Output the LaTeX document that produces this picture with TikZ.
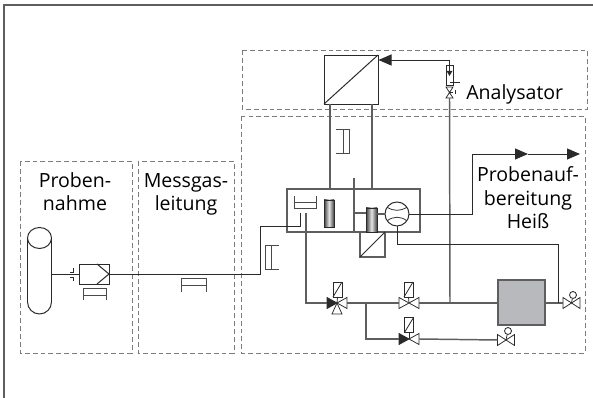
\documentclass[tikz,border=0pt]{standalone}
\usepackage{fontspec}
\setmainfont{Open Sans}
\usetikzlibrary{positioning,arrows.meta,calc}
\definecolor{linedark}{HTML}{2A2A2A}
\definecolor{linegrey}{HTML}{5E5E5E}
\definecolor{dashgrey}{HTML}{7C7C7C}
\definecolor{heatgrey}{HTML}{B8B9BC}
\def\px{0.025cm}

\begin{document}
\begin{tikzpicture}[
  x=\px, y=-\px,
  font=\fontsize{13.9}{17}\selectfont,
  zone/.style={draw=dashgrey, line width=0.7pt, dash pattern=on 3.4pt off 2.2pt},
  pipe/.style={draw=linedark, line width=0.7pt},
  gpipe/.style={draw=linegrey, line width=1.05pt},
  thin/.style={draw=linedark, line width=0.55pt},
  bracket/.style={draw=linedark!85, line width=0.6pt},
  box/.style={rectangle, draw=linedark, line width=0.65pt, inner sep=0pt, outer sep=0pt},
  heatrod/.style={box, left color=black!75, right color=black!75, middle color=black!10},
  solenoid/.style={box, line width=0.6pt, minimum width=9*\px, minimum height=15*\px},
  valvept/.style={inner sep=0pt, outer sep=0pt, minimum width=20*\px, minimum height=11*\px},
  knob/.style={circle, draw=linedark, line width=0.6pt, inner sep=0pt, minimum size=7*\px},
  flowtip/.style={-{Triangle[length=13*\px, width=11*\px]}},
  lbl/.style={align=center, anchor=base, inner sep=0pt},
]
\useasboundingbox (0,0) rectangle (593,398);
% ---- outer frame ----
\coordinate (ftl) at (4,5);
\draw[draw=linegrey, line width=1.1pt] (593,5) -- (ftl) -- (4,398);

% ---- dashed zones ----
\draw[zone] (20,161) rectangle (132,353);
\draw[zone] (138,161) rectangle (234,353);
\draw[zone] (242,50) rectangle (587,109);
\draw[zone] (241,116) rectangle (585,353);

% ---- labels ----
\node[lbl] (lprobe) at (75,211) {Proben-\\nahme};
\node[lbl] (lmess) at (186,211) {Messgas-\\leitung};
\node[lbl, anchor=base west] (lana) at (466,100) {Analysator};
\node[lbl] (lauf) at (528,229) {Probenauf-\\bereitung\\Heiß};

% ---- main units ----
\node[box, minimum width=54*\px, minimum height=49*\px] (memb) at (351,79.5) {};
\node[box, draw=linegrey, line width=1pt, minimum width=133*\px, minimum height=43*\px] (block) at (353.5,210.5) {};
\node[box, draw=linegrey, line width=0.8pt, minimum width=25*\px, minimum height=25*\px] (memb2) at (372.5,244.5) {};
\node[box, draw=linegrey, line width=1pt, fill=heatgrey, minimum width=47*\px, minimum height=45*\px] (oven) at (521.5,302.5) {};
\node[heatrod, minimum width=10*\px, minimum height=27*\px] (rod1) at (329,213.5) {};
\node[heatrod, minimum width=11*\px, minimum height=24*\px] (rod2) at (371.5,220) {};
\node[circle, draw=linedark, line width=0.7pt, inner sep=0pt, minimum size=24*\px] (pump) at (397,214) {};
\draw[thin] (pump.center) ++(-10,-6.7) .. controls +(6,4) and +(-6,4) .. +(20,0);
\draw[thin] (pump.center) ++(-10,7) .. controls +(6,-5) and +(-6,-5) .. +(20,0);
\foreach \m in {memb,memb2}{
  \draw[pipe] (\m.south west) -- (\m.north east);
}

% ---- sample probe and filter ----
\node[inner sep=0pt, minimum width=25*\px, minimum height=86*\px] (cyl) at (39.5,271) {};
\draw[pipe] (39.5,238) ellipse[x radius=12, y radius=10.5];
\draw[pipe] (27.5,238) -- (27.5,302) arc[start angle=180, end angle=360, x radius=12, y radius=-12] -- (51.5,238);
\node[box, line width=0.7pt, minimum width=30*\px, minimum height=20*\px] (filter) at (94,274) {};
\draw[pipe] (97,264) -- (filter.east) -- (97,284);
\draw[pipe] (cyl.east |- filter.west) -- (filter.west);
\draw[thin] (70,272) -- (73,272) -- (73,268);
\draw[thin] (70,277) -- (73,277) -- (73,281);

% ---- valves ----
\node[valvept] (v1) at (337,303) {};
\node[valvept] (v2) at (409,303) {};
\node[valvept] (v3) at (409,339) {};
\node[valvept, minimum width=17*\px] (v4) at (571.5,303) {};
\node[valvept, minimum width=17*\px] (v5) at (506,340) {};
\node[valvept, minimum width=7*\px] (v6) at (449.5,92.5) {};
\foreach \v in {v1,v2,v3,v4,v5}{
  \draw[thin] (\v.north west) -- (\v.south west) -- (\v.north east) -- (\v.south east) -- cycle;
}
\draw[thin] (v6.north west) -- (v6.north east) -- (v6.south west) -- (v6.south east) -- cycle;
\draw[thin] (v6.center) -- (v6.east) ++(2,-2) -- ++(0,4);
\foreach \v in {v1,v3}{
  \fill[linedark] (\v.north west) -- (\v.south west) -- (\v.center) -- cycle;
}
\draw[thin] (v1.center) -- +(-5,11) -- +(5,11) -- cycle;

\node[solenoid] (s1) at (337.5,289.5) {};
\node[solenoid] (s2) at (408.5,289.5) {};
\node[solenoid] (s3) at (409,325) {};
\foreach \i in {1,2,3}{
  \draw[thin] (s\i.south west) -- (s\i.north east);
  \draw[thin] (s\i) ++(0,7.5) -- (v\i.center);
}
\node[knob] (k4) at (573,295) {};
\node[knob] (k5) at (508,331) {};
\draw[thin] (k4) -- (v4.center);
\draw[thin] (k5) -- (v5.center);

% ---- flow meter ----
\node[box, line width=0.7pt, minimum width=7*\px, minimum height=20*\px] (flow) at (449.5,75) {};
\fill[linedark] (446.5,71) -- (452.5,71) -- (449.5,76) -- cycle;
\draw[thin] (449.5,71) -- (449.5,65);
\draw[thin] (450,82) -- (460,82);

% ---- brackets ----
\draw[bracket] (83,300) -- (83,288) -- (106,288) -- (106,300) (83,295) -- (106,295);
\draw[bracket] (181,292) -- (181,278) -- (206,278) -- (206,292) (181,285) -- (206,285);
\draw[bracket] (336,129) -- (349,129) -- (349,153) -- (336,153) (343,129) -- (343,153);
\draw[bracket] (279,245) -- (265,245) -- (265,269) -- (279,269) (271,245) -- (271,269);
\draw[bracket] (294,196) -- (294,208) -- (316,208) -- (316,196) (294,202) -- (316,202);

% ---- gas path ----
\coordinate (hot1) at (260,226);
\coordinate (feed) at (300,213);
\draw[pipe] (filter.east) -- (260,274) -- (hot1) -- (feed |- hot1) -- (feed);
\draw[gpipe] (330,104) -- (330,189);
\draw[gpipe] (372,104) -- (372,189);
\draw[gpipe] (354,178) -- (354,232);
\draw[gpipe] (354,213) -- (rod2.west |- 0,213);
\draw[gpipe] (rod2.east |- 0,214) -- (pump.west);

% ---- return to analyser ----
\coordinate (jv) at (450,303);
\draw[pipe, flowtip] (449.5,60) -- (378.5,60);
\draw[pipe] (flow.north |- 0,60) -- (flow.north);
\draw[gpipe] (v6.south) -- (jv);

% ---- outlet with two arrows ----
\coordinate (outc) at (472,214);
\coordinate (outm) at (528,154);
\draw[pipe] (pump.east) -- (outc) -- (472,154) -- (515,154);
\draw[pipe, flowtip] (515,154) -- (outm);
\draw[pipe, flowtip] (outm) -- (580,154);

% ---- sample lines to valves and oven ----
\coordinate (jtee) at (366,303);
\draw[gpipe] (306,213) -- (306,303) -- (v1.west);
\draw[gpipe] (v1.east) -- (jtee) -- (v2.west);
\draw[gpipe] (v2.east) -- (oven.west |- v2.east);
\draw[gpipe] (jtee) -- (366,339) -- (v3.west);
\draw[gpipe] (v3.east) -- (v5.west);
\draw[gpipe] (oven.east |- v4.west) -- (v4.west);
\draw[pipe] (pump.south) -- (397,244) -- (558,244) -- (558,303);
\end{tikzpicture}
\end{document}
